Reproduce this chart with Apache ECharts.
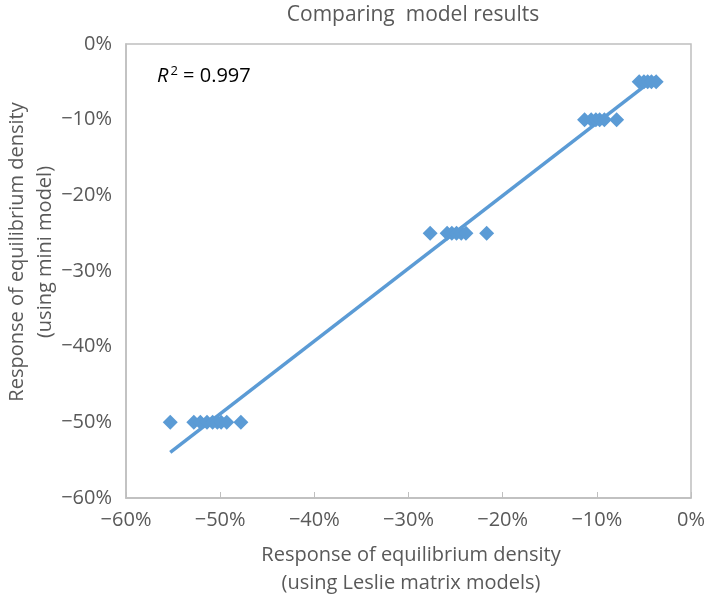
<!DOCTYPE html>
<html>
<head>
<meta charset="utf-8">
<script src="https://cdn.jsdelivr.net/npm/echarts@6/dist/echarts.min.js"></script>
<style>
  html, body { margin: 0; padding: 0; background: #fff; }
  #chart { width: 709px; height: 599px; }
</style>
</head>
<body>
<div id="chart"></div>
<script>
// response of equilibrium density, in %
const leslieX = [
  -55.3, -52.8, -52.1, -51.4, -50.8, -50.3, -49.9, -49.3, -47.8,
  -27.7, -25.9, -25.4, -24.9, -24.4, -23.9, -21.7,
  -11.3, -10.6, -10.1, -9.7, -9.2, -7.9,
  -5.5, -5.0, -4.6, -4.2, -3.7
]
const miniY = [
  -50, -50, -50, -50, -50, -50, -50, -50, -50,
  -25, -25, -25, -25, -25, -25, -25,
  -10, -10, -10, -10, -10, -10,
  -5, -5, -5, -5, -5
]
const axisTicks = [-60, -50, -40, -30, -20, -10, 0]
const rSquared = '0.997'

const blue = '#5B9BD5'
const grey = '#595959'
const font = 'Open Sans'

// linear trendline from the data
function fitLine (xs, ys) {
  const n = xs.length
  const mx = xs.reduce((a, b) => a + b, 0) / n
  const my = ys.reduce((a, b) => a + b, 0) / n
  let sxy = 0
  let sxx = 0
  for (let i = 0; i < n; i++) {
    sxy += (xs[i] - mx) * (ys[i] - my)
    sxx += (xs[i] - mx) * (xs[i] - mx)
  }
  const k = sxy / sxx
  return { k, b: my - k * mx }
}
const fit = fitLine(leslieX, miniY)
const xMin = Math.min(...leslieX)
const xMax = Math.max(...leslieX)
const trend = [xMin, xMax].map(x => [x, fit.k * x + fit.b])

const pct = v => (v < 0 ? '\u2212' + Math.abs(v) : v) + '%'

const chart = echarts.init(document.getElementById('chart'))
chart.setOption({
  animation: false,
  title: {
    text: 'Comparing  model results',
    left: 408,
    top: 0,
    textAlign: 'center',
    textStyle: { fontFamily: font, fontSize: 21, fontWeight: 'normal', color: grey }
  },
  grid: { left: 126, right: 18, top: 44, bottom: 101, outerBoundsMode: 'none', containLabel: false },
  xAxis: {
    type: 'value',
    min: axisTicks[0],
    max: axisTicks[axisTicks.length - 1],
    interval: 10,
    axisLine: { show: true, onZero: false, lineStyle: { color: '#BFBFBF', width: 1.5 } },
    axisTick: { show: true, inside: true, length: 6, lineStyle: { color: '#BFBFBF' } },
    axisLabel: { formatter: pct, fontFamily: font, fontSize: 20, color: grey, margin: 12 },
    splitLine: { show: false }
  },
  yAxis: {
    type: 'value',
    min: axisTicks[0],
    max: axisTicks[axisTicks.length - 1],
    interval: 10,
    axisLine: { show: true, onZero: false, lineStyle: { color: '#BFBFBF', width: 1.5 } },
    axisTick: { show: false },
    axisLabel: { formatter: pct, fontFamily: font, fontSize: 20, color: grey, margin: 14 },
    splitLine: { show: false }
  },
  graphic: [
    // top and right border of the plot box
    {
      type: 'rect',
      shape: { x: 126, y: 44, width: 565, height: 454 },
      style: { fill: 'none', stroke: '#BFBFBF', lineWidth: 1.5 },
      silent: true
    },
    {
      type: 'text',
      x: 157,
      y: 76,
      style: {
        text: '{i|R}{s|2}{n| = ' + rSquared + '}',
        rich: {
          i: { fontFamily: font, fontSize: 20, fontStyle: 'italic', fill: '#000' },
          s: { fontFamily: font, fontSize: 13, fill: '#000', padding: [0, 0, 10, 2] },
          n: { fontFamily: font, fontSize: 20, fill: '#000' }
        },
        verticalAlign: 'middle'
      }
    },
    // axis titles
    {
      type: 'text',
      x: 411,
      y: 569,
      style: {
        text: 'Response of equilibrium density\n(using Leslie matrix models)',
        fontFamily: font,
        fontSize: 20,
        lineHeight: 28,
        fill: grey,
        align: 'center',
        verticalAlign: 'middle'
      }
    },
    {
      type: 'text',
      x: 31,
      y: 252,
      rotation: Math.PI / 2,
      style: {
        text: 'Response of equilibrium density\n(using mini model)',
        fontFamily: font,
        fontSize: 20,
        lineHeight: 28,
        fill: grey,
        align: 'center',
        verticalAlign: 'middle'
      }
    }
  ],
  series: [
    {
      type: 'line',
      data: trend,
      symbol: 'none',
      lineStyle: { color: blue, width: 3.5 },
      z: 1
    },
    {
      type: 'scatter',
      data: leslieX.map((x, i) => [x, miniY[i]]),
      symbol: 'diamond',
      symbolSize: 15,
      itemStyle: { color: blue, opacity: 1 },
      z: 2
    }
  ]
})
</script>
</body>
</html>
